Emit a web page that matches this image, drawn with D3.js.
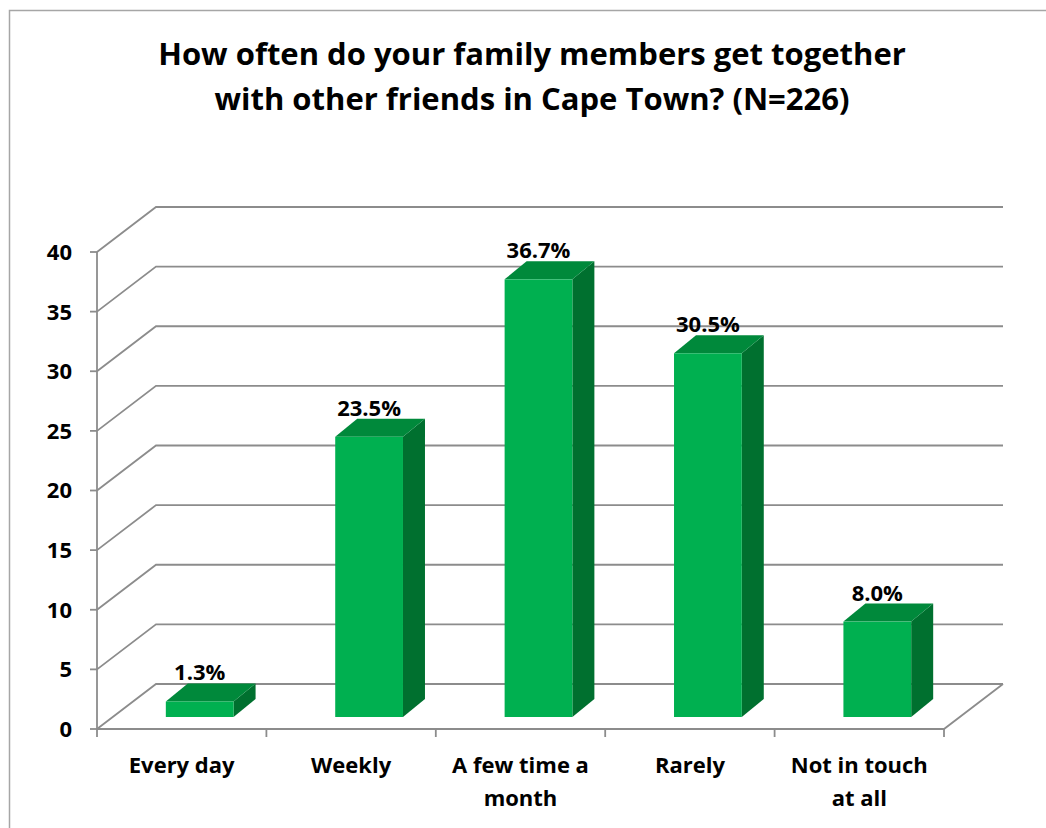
<!DOCTYPE html>
<html>
<head>
<meta charset="utf-8">
<script src="https://cdn.jsdelivr.net/npm/d3@7"></script>
<style>
  html, body { margin: 0; padding: 0; background: #fff; }
  svg { display: block; }
  text { font-family: "Open Sans", Lato, "Noto Sans", sans-serif; font-weight: bold; fill: #000; }
</style>
</head>
<body>
<svg id="chart" width="1046" height="828"></svg>
<script>
// Survey answers and their shares (%)
const categories = ["Every day", "Weekly", "A few time a month", "Rarely", "Not in touch at all"];
const values = [1.3, 23.5, 36.7, 30.5, 8.0];
const valueLabels = ["1.3%", "23.5%", "36.7%", "30.5%", "8.0%"];
const yTicks = [0, 5, 10, 15, 20, 25, 30, 35, 40];
const titleLines = ["How often do your family members get together", "with other friends in Cape Town? (N=226)"];

const svg = d3.select("#chart");

// Chart frame
svg.append("rect")
  .attr("x", 9.5).attr("y", 10.5)
  .attr("width", 1100).attr("height", 900)
  .attr("fill", "#fff").attr("stroke", "#a6a6a6").attr("stroke-width", 1.5);

// Title
svg.append("g").selectAll("text")
  .data(titleLines).join("text")
  .attr("x", 532).attr("y", (d, i) => 65 + i * 45)
  .attr("text-anchor", "middle")
  .attr("font-size", 31)
  .text(d => d);

// Scales: front plane of the plot box
const x = d3.scaleBand().domain(categories).range([97, 944]).paddingInner(0).paddingOuter(0);
const y = d3.scaleLinear().domain([0, 40]).range([729, 252]);

// 3D offsets: back wall depth and bar placement inside the box
const wallDx = 59, wallDy = -45;
const barShiftX = 18, barShiftY = -12;
const barDx = 22, barDy = -18;
const barW = x.bandwidth() * 0.4;

const gridColor = "#8c8c8c";

// Back wall gridlines with side-wall diagonals
const grid = svg.append("g");
grid.selectAll("path.grid")
  .data(yTicks).join("path")
  .attr("class", "grid")
  .attr("fill", "none")
  .attr("stroke", gridColor).attr("stroke-width", 1.8)
  .attr("d", v => {
    const p = d3.path();
    p.moveTo(x.range()[0], y(v));
    p.lineTo(x.range()[0] + wallDx, y(v) + wallDy);
    p.lineTo(x.range()[1] + wallDx, y(v) + wallDy);
    return p.toString();
  });

// Floor front edge and right diagonal
const floor = d3.path();
floor.moveTo(x.range()[0], y(0));
floor.lineTo(x.range()[1], y(0));
floor.lineTo(x.range()[1] + wallDx, y(0) + wallDy);
svg.append("path").attr("d", floor.toString())
  .attr("fill", "none").attr("stroke", gridColor).attr("stroke-width", 1.8);

// Value axis line and ticks
svg.append("line")
  .attr("x1", x.range()[0]).attr("x2", x.range()[0])
  .attr("y1", y(40)).attr("y2", y(0))
  .attr("stroke", gridColor).attr("stroke-width", 1.8);
svg.append("g").selectAll("line")
  .data(yTicks).join("line")
  .attr("x1", x.range()[0] - 7).attr("x2", x.range()[0])
  .attr("y1", d => y(d)).attr("y2", d => y(d))
  .attr("stroke", gridColor).attr("stroke-width", 1.8);
svg.append("g").selectAll("text")
  .data(yTicks).join("text")
  .attr("x", 72).attr("y", d => y(d))
  .attr("dy", "0.36em")
  .attr("text-anchor", "end")
  .attr("font-size", 22)
  .text(d => d);

// Category ticks
const bounds = categories.map(c => x(c)).concat([x.range()[1]]);
svg.append("g").selectAll("line")
  .data(bounds).join("line")
  .attr("x1", d => d).attr("x2", d => d)
  .attr("y1", y(0)).attr("y2", y(0) + 8)
  .attr("stroke", gridColor).attr("stroke-width", 1.8);

// Bars: front, top and side faces
const yb = v => y(v) + barShiftY;
const bars = svg.append("g").selectAll("g")
  .data(categories.map((c, i) => ({ c, v: values[i], label: valueLabels[i] })))
  .join("g");

bars.each(function (d) {
  const g = d3.select(this);
  const x0 = x(d.c) + x.bandwidth() / 2 + barShiftX - barW / 2;
  const x1 = x0 + barW;
  const yTop = yb(d.v), yBot = yb(0);
  const pts = a => a.map(p => p.join(",")).join(" ");
  // side
  g.append("polygon").attr("fill", "#00702f")
    .attr("points", pts([[x1, yTop], [x1 + barDx, yTop + barDy], [x1 + barDx, yBot + barDy], [x1, yBot]]));
  // top
  g.append("polygon").attr("fill", "#00893b")
    .attr("points", pts([[x0, yTop], [x0 + barDx, yTop + barDy], [x1 + barDx, yTop + barDy], [x1, yTop]]));
  // front
  g.append("rect").attr("fill", "#00b050")
    .attr("x", x0).attr("y", yTop).attr("width", barW).attr("height", yBot - yTop);
  // value label
  g.append("text")
    .attr("x", (x0 + x1) / 2).attr("y", yTop + barDy - 3)
    .attr("text-anchor", "middle")
    .attr("font-size", 22)
    .text(d.label);
});

// Category labels, wrapped to the band width
const catG = svg.append("g").selectAll("text")
  .data(categories).join("text")
  .attr("x", d => x(d) + x.bandwidth() / 2)
  .attr("y", 773)
  .attr("text-anchor", "middle")
  .attr("font-size", 22);

catG.each(function (d) {
  const t = d3.select(this);
  const words = d.split(" ");
  const maxW = 160;
  let line = [];
  let tspan = t.append("tspan").attr("x", t.attr("x")).attr("dy", 0);
  words.forEach(w => {
    line.push(w);
    tspan.text(line.join(" "));
    if (tspan.node().getComputedTextLength() > maxW && line.length > 1) {
      line.pop();
      tspan.text(line.join(" "));
      line = [w];
      tspan = t.append("tspan").attr("x", t.attr("x")).attr("dy", 33).text(w);
    }
  });
});
</script>
</body>
</html>
